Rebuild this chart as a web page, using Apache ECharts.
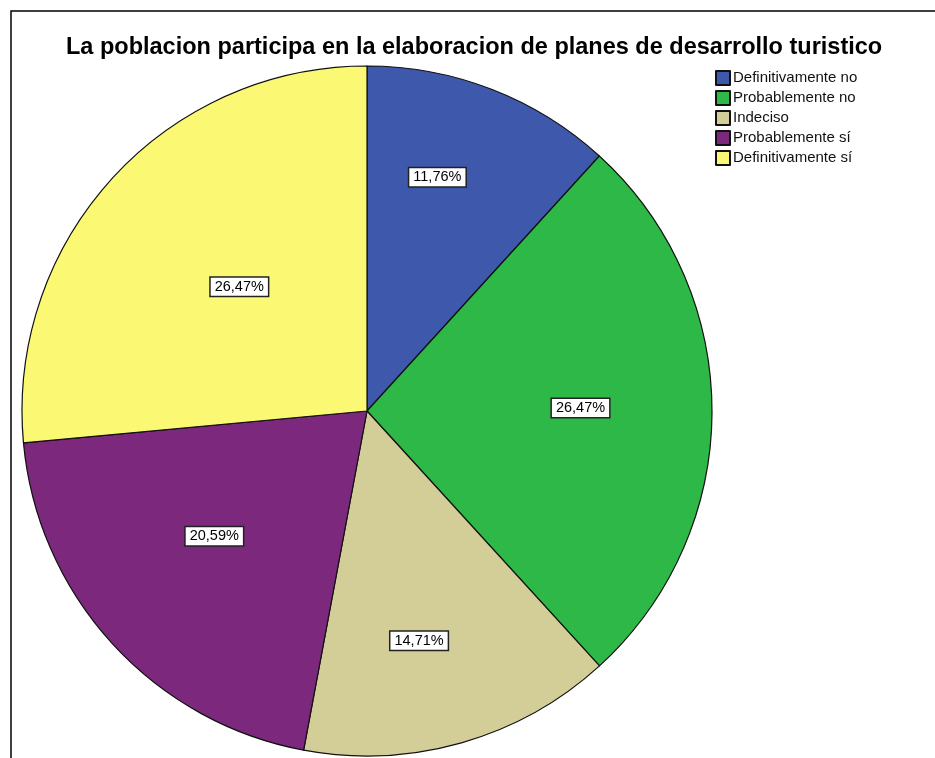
<!DOCTYPE html>
<html>
<head>
<meta charset="utf-8">
<title>La poblacion participa</title>
<script src="https://cdn.jsdelivr.net/npm/echarts@6/dist/echarts.min.js"></script>
<style>
  html, body { margin: 0; padding: 0; background: #fff; }
  #myChart { width: 935px; height: 758px; }
</style>
</head>
<body>
<div id="myChart"></div>
<script>
// categorias y porcentajes
const categories = ['Definitivamente no', 'Probablemente no', 'Indeciso', 'Probablemente sí', 'Definitivamente sí'];
const percents = [11.76, 26.47, 14.71, 20.59, 26.47];
const colors = ['#3e58ac', '#2eb848', '#d3ce97', '#7c287d', '#fbf873'];
// desplazamiento de cada etiqueta respecto a la posicion 'inside'
const labelShift = [[7, -70], [38, -3], [4, 61], [-23, 7], [2, -6]];

let myChart = echarts.init(document.getElementById('myChart'));

myChart.setOption({
  animation: false,
  title: {
    text: 'La poblacion participa en la elaboracion de planes de desarrollo turistico',
    left: 66,
    top: 36,
    padding: 0,
    textStyle: {
      fontFamily: 'Liberation Sans, Arial, sans-serif',
      fontSize: 23.5,
      fontWeight: 'bold',
      color: '#000'
    }
  },
  legend: {
    orient: 'vertical',
    left: 715,
    top: 70,
    padding: 0,
    icon: 'rect',
    itemWidth: 14,
    itemHeight: 14,
    itemGap: 4,
    data: categories,
    textStyle: {
      fontFamily: 'Liberation Sans, Arial, sans-serif',
      fontSize: 15,
      color: '#111',
      padding: [0, 0, 0, -2]
    }
  },
  graphic: [{
    type: 'polyline',
    shape: { points: [[11, 758], [11, 11], [935, 11]] },
    style: { stroke: '#000', lineWidth: 1.5, fill: null },
    silent: true
  }],
  series: [{
    type: 'pie',
    center: [367, 411],
    radius: 345,
    startAngle: 90,
    clockwise: true,
    label: {
      show: true,
      position: 'inside',
      formatter: p => p.value.toFixed(2).replace('.', ',') + '%',
      fontFamily: 'Liberation Sans, Arial, sans-serif',
      fontSize: 14.5,
      color: '#000',
      backgroundColor: '#fff',
      borderColor: '#222',
      borderWidth: 1.5,
      padding: [2, 4, 1, 4]
    },
    labelLayout: p => ({ dx: labelShift[p.dataIndex][0], dy: labelShift[p.dataIndex][1] }),
    itemStyle: {
      borderColor: '#111',
      borderWidth: 1.2
    },
    emphasis: { disabled: true },
    data: categories.map((name, i) => ({
      name: name,
      value: percents[i],
      itemStyle: { color: colors[i] }
    }))
  }]
});
</script>
</body>
</html>
